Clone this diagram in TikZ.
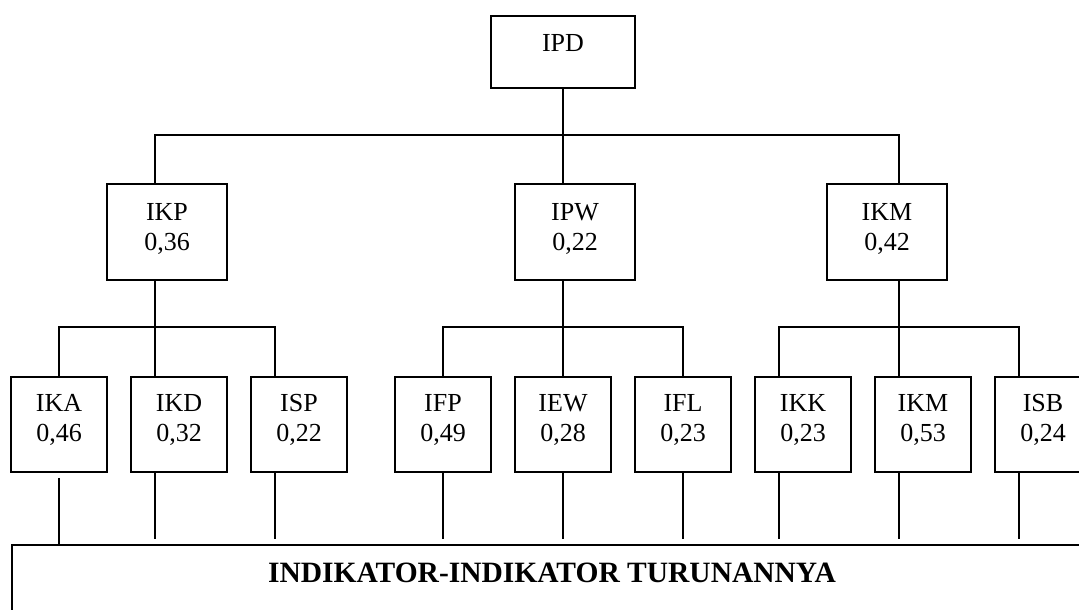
\documentclass[tikz,border=0pt]{standalone}
\usepackage{fontspec}
\setmainfont{Liberation Serif}
\usetikzlibrary{calc}
\begin{document}
\begin{tikzpicture}[x=1pt,y=-1pt,line width=1.8pt,
  boxA/.style={draw,rectangle,inner sep=0pt,minimum width=144pt,minimum height=72pt},
  boxB/.style={draw,rectangle,inner sep=0pt,minimum width=120pt,minimum height=96pt},
  boxC/.style={draw,rectangle,inner sep=0pt,minimum width=96pt,minimum height=95pt},
  lbl/.style={align=center,inner sep=0pt,font=\fontsize{26}{30}\selectfont},
  bold/.style={inner sep=0pt,font=\bfseries\fontsize{29.5}{34}\selectfont}]
\useasboundingbox (0,0) rectangle (1079,610);
\clip (0,0) rectangle (1079,610);
\fill[white] (0,0) rectangle (1079,610);

% level 1
\node[boxA] (ipd) at (563,52) {};
\node[lbl] (ipd-t) at ([yshift=9pt]ipd.center) {IPD};

% level 2
\node[boxB] (ikp) at (167,232) {};
\node[boxB] (ipw) at (575,232) {};
\node[boxB] (ikm2) at (887,232) {};
\node[lbl] (ikp-t) at ([yshift=3.2pt]ikp.center) {IKP\\0,36};
\node[lbl] (ipw-t) at ([yshift=3.2pt]ipw.center) {IPW\\0,22};
\node[lbl] (ikm2-t) at ([yshift=3.2pt]ikm2.center) {IKM\\0,42};

% level 3
\node[boxC] (ika) at (59,424.5) {};
\node[boxC] (ikd) at (179,424.5) {};
\node[boxC] (isp) at (299,424.5) {};
\node[boxC] (ifp) at (443,424.5) {};
\node[boxC] (iew) at (563,424.5) {};
\node[boxC] (ifl) at (683,424.5) {};
\node[boxC] (ikk) at (803,424.5) {};
\node[boxC] (ikm3) at (923,424.5) {};
\node[boxC] (isb) at (1043,424.5) {};
\node[lbl] (ika-t) at ([yshift=4.7pt]ika.center) {IKA\\0,46};
\node[lbl] (ikd-t) at ([yshift=4.7pt]ikd.center) {IKD\\0,32};
\node[lbl] (isp-t) at ([yshift=4.7pt]isp.center) {ISP\\0,22};
\node[lbl] (ifp-t) at ([yshift=4.7pt]ifp.center) {IFP\\0,49};
\node[lbl] (iew-t) at ([yshift=4.7pt]iew.center) {IEW\\0,28};
\node[lbl] (ifl-t) at ([yshift=4.7pt]ifl.center) {IFL\\0,23};
\node[lbl] (ikk-t) at ([yshift=4.7pt]ikk.center) {IKK\\0,23};
\node[lbl] (ikm3-t) at ([yshift=4.7pt]ikm3.center) {IKM\\0,53};
\node[lbl] (isb-t) at ([yshift=4.7pt]isb.center) {ISB\\0,24};

% bottom box
\node[draw,rectangle,inner sep=0pt,minimum width=1120pt,minimum height=100pt,anchor=north west] (bottom) at (11,544) {};
\node[bold] (bottom-t) at (552,573) {INDIKATOR-INDIKATOR TURUNANNYA};

% connectors level 1 -> 2
\draw (ipd.south) -- ($(ipw.north)+(-12,0)$);
\draw ($(ikp.north)+(-12,0)$) -- ++(0,-48) -| ($(ikm2.north)+(12,0)$);

% level 2 -> 3
\draw ($(ikp.south)+(-12,0)$) -- ($(ikd.north)+(-24,0)$);
\draw (ika.north) -- ++(0,-49) -| ($(isp.north)+(-24,0)$);
\draw ($(ipw.south)+(-12,0)$) -- (iew.north);
\draw (ifp.north) -- ++(0,-49) -| (ifl.north);
\draw ($(ikm2.south)+(12,0)$) -- ($(ikm3.north)+(-24,0)$);
\draw ($(ikk.north)+(-24,0)$) -- ++(0,-49) -| ($(isb.north)+(-24,0)$);

% level 3 -> bottom
\draw ($(ika.south)+(0,5)$) -- (ika.south |- bottom.north);
\foreach \n/\dx in {ikd/-24, isp/-24, ifp/0, iew/0, ifl/0, ikk/-24, ikm3/-24, isb/-24}
  \draw ($(\n.south)+(\dx,0)$) -- ($(\n.south |- bottom.north)+(\dx,-5)$);
\end{tikzpicture}
\end{document}
